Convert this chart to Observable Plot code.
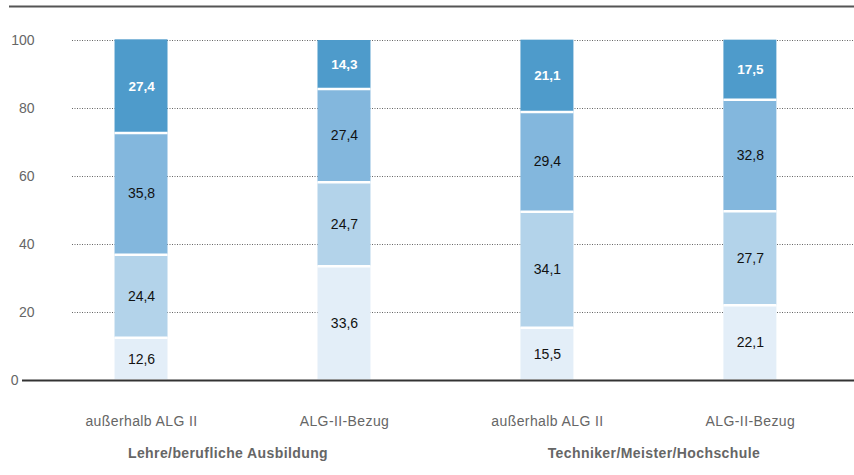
<!DOCTYPE html>
<html>
<head>
<meta charset="utf-8">
<script src="https://cdn.jsdelivr.net/npm/d3@7"></script>
<script src="https://cdn.jsdelivr.net/npm/@observablehq/plot@0.6"></script>
<style>
  html, body { margin: 0; padding: 0; background: #fff; }
  #chart svg { display: block; }
  #chart svg g[aria-label="x-axis tick label"] text { letter-spacing: 0.4px; }
</style>
</head>
<body>
<div id="chart"></div>
<script>
// ---- data ----
const groups = ["Lehre/berufliche Ausbildung", "Techniker/Meister/Hochschule"];
const subgroups = ["außerhalb ALG II", "ALG-II-Bezug"];
const segments = ["Anteil 1", "Anteil 2", "Anteil 3", "Anteil 4"]; // bottom to top
const values = [
  [12.6, 24.4, 35.8, 27.4],
  [33.6, 24.7, 27.4, 14.3],
  [15.5, 34.1, 29.4, 21.1],
  [22.1, 27.7, 32.8, 17.5]
];
const yTicks = [0, 20, 40, 60, 80, 100];
const yTop = 110;

// ---- styles ----
const palette = ["#e3eef8", "#b3d3ea", "#83b7dd", "#4e9bcb"];
const font = "'Liberation Sans', Arial, Helvetica, sans-serif";
const groupLabelShift = [-15, 5];

const keys = [];
const data = [];
groups.forEach((g, gi) => subgroups.forEach((s, si) => {
  const key = g + "|" + s;
  keys.push(key);
  values[gi * 2 + si].forEach((v, li) => data.push({key, group: g, sub: s, segment: segments[li], value: v}));
}));
const groupKeys = groups.map(g => g + "|" + subgroups[0]);
const topSeg = segments[segments.length - 1];
const fmt = v => v.toFixed(1).replace(".", ",");

const W = 854, H = 475, mL = 72, mR = 0, mT = 6, mB = 95;
const xOpts = {type: "band", domain: keys, paddingInner: 0.739, paddingOuter: 0.296, align: 0.354, round: false};
const xs = Plot.scale({x: {...xOpts, range: [mL, W - mR]}});
const step = xs.step ?? (xs.apply(keys[1]) - xs.apply(keys[0]));

const chart = Plot.plot({
  width: W, height: H,
  marginLeft: mL, marginRight: mR, marginTop: mT, marginBottom: mB,
  style: {fontFamily: font, fontSize: "14px", background: "#fff", color: "#555"},
  x: {...xOpts, axis: null, label: null},
  y: {domain: [0, yTop], axis: null, label: null},
  color: {domain: segments, range: palette},
  marks: [
    Plot.gridY(yTicks.slice(1), {stroke: "#666", strokeOpacity: 1, strokeDasharray: "1,1.5"}),
    Plot.barY(data, {x: "key", y: "value", fill: "segment"}),
    Plot.tickY(data, Plot.stackY1({x: "key", y: "value", z: "segment", stroke: "#fff", strokeWidth: 2.5})),
    Plot.text(data, Plot.stackY({x: "key", y: "value", z: "segment",
      text: d => d.segment === topSeg ? fmt(d.value) : null,
      fill: "#fff", fontWeight: "bold", fontSize: 13.5})),
    Plot.text(data, Plot.stackY({x: "key", y: "value", z: "segment",
      text: d => d.segment !== topSeg ? fmt(d.value) : null,
      fill: "#111", fontSize: 14})),
    Plot.ruleY([0], {stroke: "#333", strokeWidth: 2}),
    Plot.ruleY([yTop], {stroke: "#555", strokeWidth: 2}),
    Plot.axisY(yTicks.slice(1), {tickSize: 0, tickPadding: 38, fontSize: 14, fill: "#666", label: null}),
    Plot.axisY([0], {tickSize: 50, tickPadding: 4, stroke: "#333", strokeWidth: 2, fontSize: 14, fill: "#666", label: null}),
    Plot.axisY([yTop], {tickSize: 63, stroke: "#555", strokeWidth: 2, tickFormat: () => "", label: null}),
    Plot.axisX(keys, {tickSize: 0, tickPadding: 36, tickFormat: k => k.split("|")[1], fontSize: 14, fill: "#666", label: null}),
    ...groupKeys.map((gk, i) => Plot.axisX([gk], {tickSize: 0, tickPadding: 68, dx: step / 2 + groupLabelShift[i],
      tickFormat: k => k.split("|")[0], fontSize: 14, fontWeight: "bold", fill: "#666", label: null}))
  ]
});
document.getElementById("chart").append(chart);
</script>
</body>
</html>
